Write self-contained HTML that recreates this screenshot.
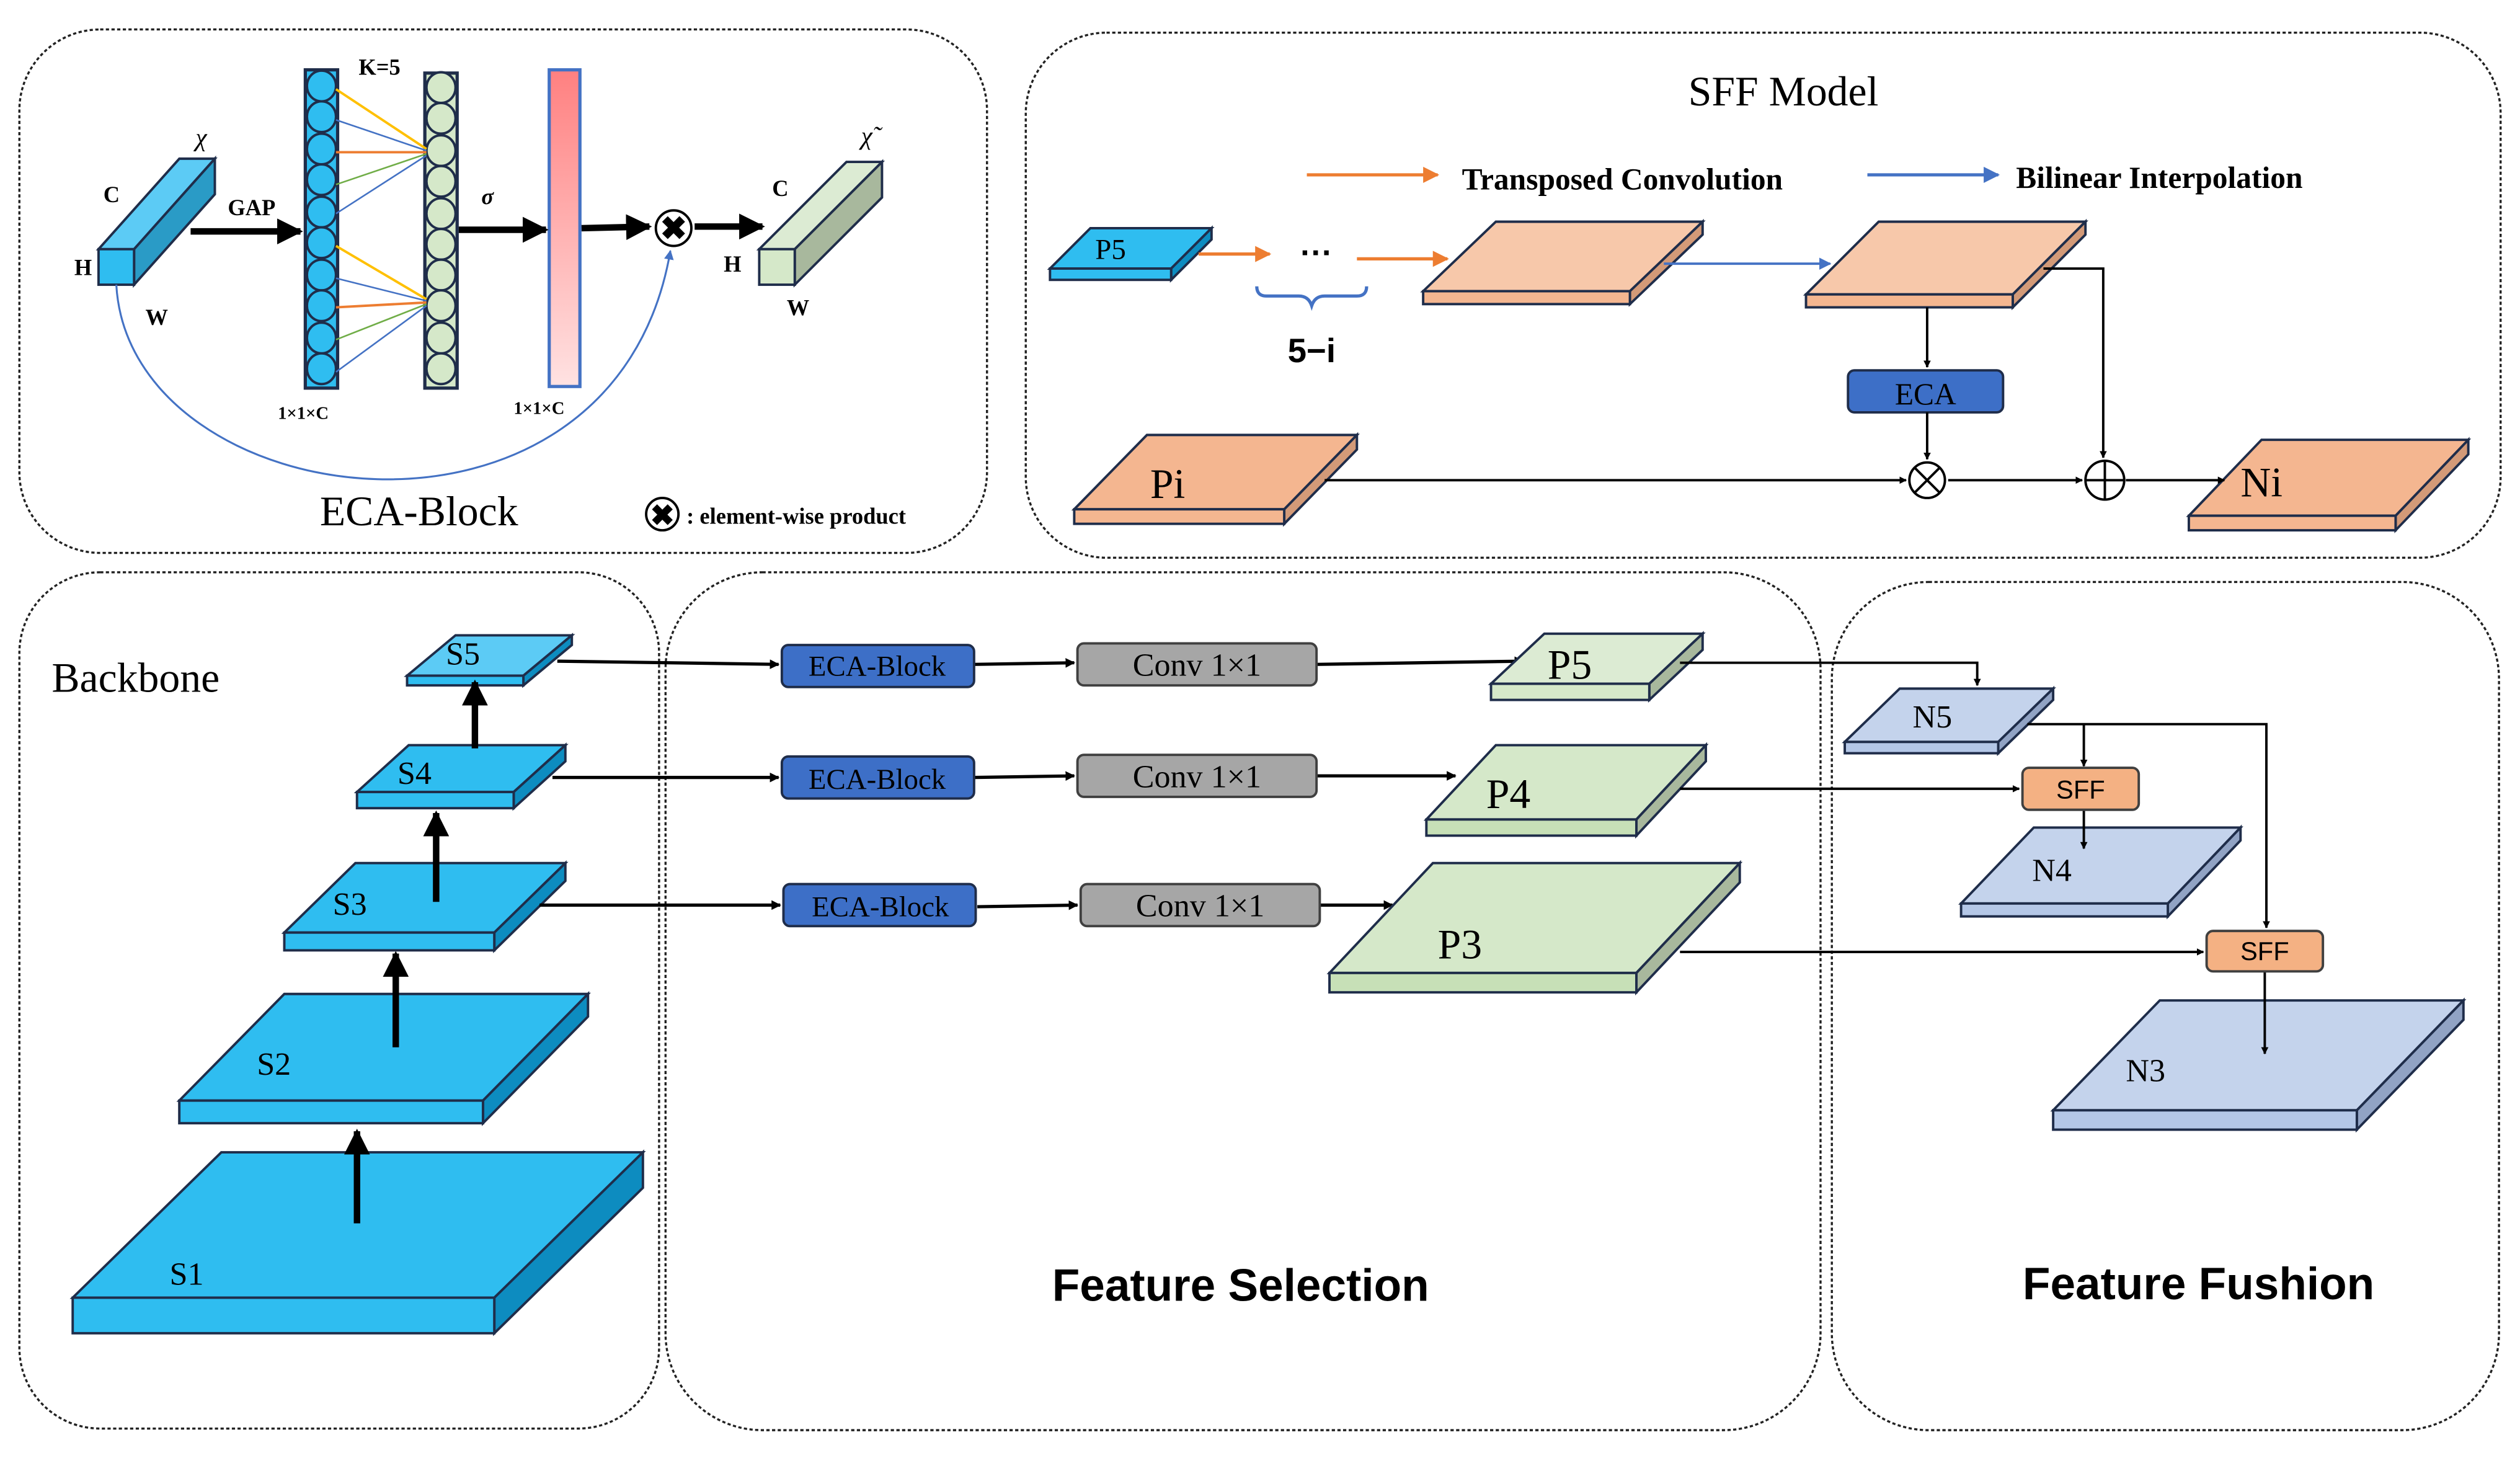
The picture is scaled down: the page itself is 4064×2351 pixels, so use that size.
<!DOCTYPE html>
<html><head><meta charset="utf-8"><style>html,body{margin:0;padding:0;background:#fff}svg{display:block}</style></head>
<body>
<svg xmlns="http://www.w3.org/2000/svg" width="4064" height="2351" viewBox="0 0 1560 902" font-family="Liberation Serif, serif">
<defs>
<marker id="a" viewBox="0 0 10 10" refX="9" refY="5" markerWidth="4" markerHeight="4" orient="auto"><path d="M0,0L10,5L0,10z" fill="#000"/></marker>
<marker id="ab" viewBox="0 0 10 10" refX="9" refY="5" markerWidth="3" markerHeight="3" orient="auto"><path d="M0,0L10,5L0,10z" fill="#000"/></marker>
<marker id="ao" viewBox="0 0 10 10" refX="9" refY="5" markerWidth="5" markerHeight="5" orient="auto"><path d="M0,0L10,5L0,10z" fill="#ed7d31"/></marker>
<marker id="abl" viewBox="0 0 10 10" refX="9" refY="5" markerWidth="5" markerHeight="5" orient="auto"><path d="M0,0L10,5L0,10z" fill="#4472c4"/></marker>
<linearGradient id="g" x1="0" y1="0" x2="0" y2="1"><stop offset="0" stop-color="#ff8080"/><stop offset="1" stop-color="#ffe2e2"/></linearGradient>
</defs>
<g fill="none" stroke="#222" stroke-width="1.3" stroke-dasharray="2,1.5">
<rect x="12" y="18" width="599" height="324" rx="50"/>
<rect x="635" y="20" width="913" height="325" rx="50"/>
<rect x="12" y="354" width="396" height="530" rx="50"/>
<rect x="412" y="354" width="715" height="531" rx="60"/>
<rect x="1134" y="360" width="413" height="525" rx="60"/>
</g>

<!-- ECA block panel -->
<g stroke="#1f2d4a" stroke-width="1.5">
<polygon points="61,154 83,154 133,98 111,98" fill="#5ccbf5"/>
<polygon points="83,154 133,98 133,120 83,176" fill="#2a9bc6"/>
<rect x="61" y="154" width="22" height="22" fill="#2fbdf0"/>
<polygon points="470,154 492,154 546,100 524,100" fill="#dcebd3"/>
<polygon points="492,154 546,100 546,122 492,176" fill="#a8b89d"/>
<rect x="470" y="154" width="22" height="22" fill="#d5e8c9"/>
</g>
<rect x="189" y="43" width="20" height="197" fill="#2fbdf0" stroke="#1f2d4a" stroke-width="2"/>
<rect x="263" y="45" width="20" height="195" fill="#d5e8c9" stroke="#1f2d4a" stroke-width="2"/>
<g stroke="#1f2d4a" stroke-width="1.5" fill="#2fbdf0">
<ellipse cx="199" cy="53" rx="9" ry="9.5"/><ellipse cx="199" cy="72" rx="9" ry="9.5"/><ellipse cx="199" cy="92" rx="9" ry="9.5"/><ellipse cx="199" cy="111" rx="9" ry="9.5"/><ellipse cx="199" cy="131" rx="9" ry="9.5"/><ellipse cx="199" cy="150" rx="9" ry="9.5"/><ellipse cx="199" cy="170" rx="9" ry="9.5"/><ellipse cx="199" cy="189" rx="9" ry="9.5"/><ellipse cx="199" cy="209" rx="9" ry="9.5"/><ellipse cx="199" cy="228" rx="9" ry="9.5"/>
</g>
<g stroke="#1f2d4a" stroke-width="1.5" fill="#d5e8c9">
<ellipse cx="273" cy="54" rx="9" ry="9.5"/><ellipse cx="273" cy="73" rx="9" ry="9.5"/><ellipse cx="273" cy="93" rx="9" ry="9.5"/><ellipse cx="273" cy="112" rx="9" ry="9.5"/><ellipse cx="273" cy="132" rx="9" ry="9.5"/><ellipse cx="273" cy="151" rx="9" ry="9.5"/><ellipse cx="273" cy="170" rx="9" ry="9.5"/><ellipse cx="273" cy="189" rx="9" ry="9.5"/><ellipse cx="273" cy="209" rx="9" ry="9.5"/><ellipse cx="273" cy="228" rx="9" ry="9.5"/>
</g>
<g stroke-width="1">
<line x1="208" y1="55" x2="264" y2="92" stroke="#ffc000" stroke-width="1.5"/>
<line x1="208" y1="74" x2="264" y2="93" stroke="#4472c4"/>
<line x1="208" y1="94" x2="264" y2="94" stroke="#ed7d31" stroke-width="1.5"/>
<line x1="208" y1="114" x2="264" y2="95" stroke="#70ad47"/>
<line x1="208" y1="132" x2="264" y2="96" stroke="#4472c4"/>
<line x1="208" y1="152" x2="264" y2="185" stroke="#ffc000" stroke-width="1.5"/>
<line x1="208" y1="172" x2="264" y2="186" stroke="#4472c4"/>
<line x1="208" y1="190" x2="264" y2="187" stroke="#ed7d31" stroke-width="1.5"/>
<line x1="208" y1="210" x2="264" y2="188" stroke="#70ad47"/>
<line x1="208" y1="230" x2="264" y2="189" stroke="#4472c4"/>
</g>
<rect x="340" y="43" width="19" height="196" fill="url(#g)" stroke="#4472c4" stroke-width="2"/>
<g stroke="#000" stroke-width="4" marker-end="url(#a)">
<line x1="118" y1="143" x2="186" y2="143"/>
<line x1="284" y1="142" x2="338" y2="142"/>
<line x1="360" y1="141" x2="402" y2="140"/>
<line x1="430" y1="140" x2="472" y2="140"/>
</g>
<circle cx="417" cy="141" r="11" fill="#fff" stroke="#000" stroke-width="1.5"/>
<text x="417" y="148" font-size="20" font-weight="bold" text-anchor="middle">✖</text>
<path d="M72,176 C80,320 380,360 415,155" fill="none" stroke="#4472c4" stroke-width="1.2" marker-end="url(#abl)"/>
<g font-weight="bold" font-size="14">
<text x="64" y="125">C</text><text x="46" y="170">H</text><text x="90" y="201">W</text>
<text x="141" y="133">GAP</text><text x="222" y="46">K=5</text>
<text x="478" y="121">C</text><text x="448" y="168">H</text><text x="487" y="195">W</text>
<text x="172" y="259" font-size="11">1×1×C</text><text x="318" y="256" font-size="11">1×1×C</text>
<text x="298" y="126" font-style="italic">σ</text>
<text x="425" y="324" font-size="14">: element-wise product</text>
</g>
<text x="121" y="90" font-size="16" font-style="italic">χ</text>
<text x="533" y="89" font-size="16" font-style="italic">χ̃</text>
<text x="198" y="325" font-size="26">ECA-Block</text>
<circle cx="410" cy="318" r="10" fill="#fff" stroke="#000" stroke-width="1.5"/>
<text x="410" y="325" font-size="18" font-weight="bold" text-anchor="middle">✖</text>

<!-- SFF model -->
<text x="1104" y="65" font-size="26" text-anchor="middle">SFF Model</text>
<line x1="809" y1="108" x2="890" y2="108" stroke="#ed7d31" stroke-width="2" marker-end="url(#ao)"/>
<text x="905" y="117" font-size="19" font-weight="bold">Transposed Convolution</text>
<line x1="1156" y1="108" x2="1237" y2="108" stroke="#4472c4" stroke-width="2" marker-end="url(#abl)"/>
<text x="1248" y="116" font-size="19" font-weight="bold">Bilinear Interpolation</text>
<g stroke="#1f2d4a" stroke-width="1.5">
<polygon points="650,166 725,166 750,141 675,141" fill="#2fbdf0"/><polygon points="725,166 750,141 750,148 725,173" fill="#0d8cc0"/><rect x="650" y="166" width="75" height="7" fill="#2fbdf0"/>
<polygon points="881,180 1009,180 1054,137 926,137" fill="#f7c8aa"/><polygon points="1009,180 1054,137 1054,145 1009,188" fill="#d39a78"/><rect x="881" y="180" width="128" height="8" fill="#f4b690"/>
<polygon points="1118,182 1246,182 1291,137 1163,137" fill="#f7c8aa"/><polygon points="1246,182 1291,137 1291,145 1246,190" fill="#d39a78"/><rect x="1118" y="182" width="128" height="8" fill="#f4b690"/>
<polygon points="665,315 795,315 840,269 710,269" fill="#f4b690"/><polygon points="795,315 840,269 840,278 795,324" fill="#d39a78"/><rect x="665" y="315" width="130" height="9" fill="#f4b690"/>
<polygon points="1355,319 1483,319 1528,272 1400,272" fill="#f4b690"/><polygon points="1483,319 1528,272 1528,281 1483,328" fill="#d39a78"/><rect x="1355" y="319" width="128" height="9" fill="#f4b690"/>
</g>
<text x="678" y="160" font-size="18">P5</text>
<text x="712" y="308" font-size="26">Pi</text>
<text x="1387" y="307" font-size="26">Ni</text>
<line x1="742" y1="157" x2="786" y2="157" stroke="#ed7d31" stroke-width="2" marker-end="url(#ao)"/>
<text x="815" y="163" font-size="20" font-weight="bold" text-anchor="middle" font-family="Liberation Sans, sans-serif">···</text>
<line x1="840" y1="160" x2="896" y2="160" stroke="#ed7d31" stroke-width="2" marker-end="url(#ao)"/>
<path d="M778,177 q0,6 6,6 h20 q6,0 8,6 q2,-6 8,-6 h20 q6,0 6,-6" fill="none" stroke="#4472c4" stroke-width="2"/>
<text x="812" y="224" font-size="21" font-weight="bold" text-anchor="middle" font-family="Liberation Sans, sans-serif">5−i</text>
<line x1="1030" y1="163" x2="1133" y2="163" stroke="#4472c4" stroke-width="1.5" marker-end="url(#abl)"/>
<rect x="1144" y="229" width="96" height="26" rx="4" fill="#3d6fc7" stroke="#1f2d4a" stroke-width="1.5"/>
<text x="1192" y="250" font-size="19" text-anchor="middle">ECA</text>
<g stroke="#000" stroke-width="1.5" fill="none">
<line x1="1193" y1="190" x2="1193" y2="227" marker-end="url(#ab)"/>
<line x1="1193" y1="255" x2="1193" y2="284" marker-end="url(#ab)"/>
<polyline points="1265,166 1302,166 1302,283" marker-end="url(#ab)"/>
<line x1="820" y1="297" x2="1180" y2="297" marker-end="url(#ab)"/>
<line x1="1206" y1="297" x2="1289" y2="297" marker-end="url(#ab)"/>
<line x1="1316" y1="297" x2="1377" y2="297" marker-end="url(#ab)"/>
<circle cx="1193" cy="297" r="11" fill="#fff"/><line x1="1185" y1="289" x2="1201" y2="305"/><line x1="1201" y1="289" x2="1185" y2="305"/>
<circle cx="1303" cy="297" r="12" fill="#fff"/><line x1="1291" y1="297" x2="1315" y2="297"/><line x1="1303" y1="285" x2="1303" y2="309"/>
</g>

<!-- Backbone -->
<text x="32" y="428" font-size="26">Backbone</text>
<g stroke="#1f2d4a" stroke-width="1.5">
<polygon points="45,803 306,803 398,713 137,713" fill="#2fbdf0"/><polygon points="306,803 398,713 398,735 306,825" fill="#0d8cc0"/><rect x="45" y="803" width="261" height="22" fill="#2fbdf0"/>
<polygon points="111,681 299,681 364,615 176,615" fill="#2fbdf0"/><polygon points="299,681 364,615 364,629 299,695" fill="#0d8cc0"/><rect x="111" y="681" width="188" height="14" fill="#2fbdf0"/>
<polygon points="176,577 306,577 350,534 220,534" fill="#2fbdf0"/><polygon points="306,577 350,534 350,545 306,588" fill="#0d8cc0"/><rect x="176" y="577" width="130" height="11" fill="#2fbdf0"/>
<polygon points="221,490 318,490 350,461 253,461" fill="#2fbdf0"/><polygon points="318,490 350,461 350,471 318,500" fill="#0d8cc0"/><rect x="221" y="490" width="97" height="10" fill="#2fbdf0"/>
<polygon points="252,418 324,418 354,393 282,393" fill="#5ccbf5"/><polygon points="324,418 354,393 354,399 324,424" fill="#0d8cc0"/><rect x="252" y="418" width="72" height="6" fill="#2fbdf0"/>
</g>
<g font-size="20"><text x="105" y="795">S1</text><text x="159" y="665">S2</text><text x="206" y="566">S3</text><text x="246" y="485">S4</text><text x="276" y="411">S5</text></g>
<g stroke="#000" stroke-width="4" marker-end="url(#a)">
<line x1="221" y1="757" x2="221" y2="700"/><line x1="245" y1="648" x2="245" y2="590"/><line x1="270" y1="558" x2="270" y2="503"/><line x1="294" y1="463" x2="294" y2="422"/>
</g>

<!-- Feature selection -->
<g stroke="#000" stroke-width="2" marker-end="url(#ab)">
<line x1="345" y1="409" x2="482" y2="411"/>
<line x1="342" y1="481" x2="482" y2="481"/>
<line x1="334" y1="560" x2="483" y2="560"/>
<line x1="603" y1="411" x2="665" y2="410"/><line x1="603" y1="481" x2="665" y2="480"/><line x1="605" y1="561" x2="667" y2="560"/>
<line x1="815" y1="411" x2="943" y2="409"/><line x1="815" y1="480" x2="901" y2="480"/><line x1="817" y1="560" x2="862" y2="560"/>
</g>
<g stroke="#1f2d4a" stroke-width="1.5" fill="#3d6fc7">
<rect x="484" y="399" width="119" height="26" rx="4"/><rect x="484" y="468" width="119" height="26" rx="4"/><rect x="485" y="547" width="119" height="26" rx="4"/>
</g>
<g stroke="#404040" stroke-width="1.5" fill="#a6a6a6">
<rect x="667" y="398" width="148" height="26" rx="4"/><rect x="667" y="467" width="148" height="26" rx="4"/><rect x="669" y="547" width="148" height="26" rx="4"/>
</g>
<g font-size="18" text-anchor="middle"><text x="543" y="418">ECA-Block</text><text x="543" y="488">ECA-Block</text><text x="545" y="567">ECA-Block</text>
<text x="741" y="418" font-size="20">Conv 1×1</text><text x="741" y="487" font-size="20">Conv 1×1</text><text x="743" y="567" font-size="20">Conv 1×1</text></g>
<g stroke="#1f2d4a" stroke-width="1.5">
<polygon points="923,423 1021,423 1054,392 956,392" fill="#dcebd3"/><polygon points="1021,423 1054,392 1054,402 1021,433" fill="#a8b89d"/><rect x="923" y="423" width="98" height="10" fill="#d5e8c9"/>
<polygon points="883,507 1013,507 1056,461 926,461" fill="#d5e8c9"/><polygon points="1013,507 1056,461 1056,471 1013,517" fill="#a8b89d"/><rect x="883" y="507" width="130" height="10" fill="#c7e0b7"/>
<polygon points="823,602 1013,602 1077,534 887,534" fill="#d5e8c9"/><polygon points="1013,602 1077,534 1077,546 1013,614" fill="#a8b89d"/><rect x="823" y="602" width="190" height="12" fill="#c7e0b7"/>
</g>
<g font-size="26"><text x="958" y="420">P5</text><text x="920" y="500">P4</text><text x="890" y="593">P3</text></g>
<text x="768" y="805" font-size="28" font-weight="bold" text-anchor="middle" font-family="Liberation Sans, sans-serif">Feature Selection</text>

<!-- Feature fusion -->
<g stroke="#1f2d4a" stroke-width="1.5">
<polygon points="1142,459 1237,459 1271,426 1176,426" fill="#c4d3ec"/><polygon points="1237,459 1271,426 1271,433 1237,466" fill="#91a3c4"/><rect x="1142" y="459" width="95" height="7" fill="#b4c7e7"/>
<polygon points="1214,559 1342,559 1387,512 1259,512" fill="#c4d3ec"/><polygon points="1342,559 1387,512 1387,520 1342,567" fill="#91a3c4"/><rect x="1214" y="559" width="128" height="8" fill="#b4c7e7"/>
<polygon points="1271,687 1459,687 1525,619 1337,619" fill="#c4d3ec"/><polygon points="1459,687 1525,619 1525,631 1459,699" fill="#91a3c4"/><rect x="1271" y="687" width="188" height="12" fill="#b4c7e7"/>
</g>
<g font-size="20"><text x="1184" y="450">N5</text><text x="1258" y="545">N4</text><text x="1316" y="669">N3</text></g>
<g stroke="#000" stroke-width="1.5" fill="none" marker-end="url(#ab)">
<polyline points="1040,410 1224,410 1224,424"/>
<polyline points="1255,448 1403,448 1403,574"/>
<line x1="1290" y1="448" x2="1290" y2="474"/>
<line x1="1040" y1="488" x2="1250" y2="488"/>
<line x1="1290" y1="501" x2="1290" y2="525"/>
<line x1="1040" y1="589" x2="1364" y2="589"/>
<line x1="1402" y1="601" x2="1402" y2="652"/>
</g>
<g stroke="#404040" stroke-width="1.5" fill="#f4b183">
<rect x="1252" y="475" width="72" height="26" rx="4"/><rect x="1366" y="576" width="72" height="25" rx="4"/>
</g>
<g font-size="16" text-anchor="middle" font-family="Liberation Sans, sans-serif"><text x="1288" y="494">SFF</text><text x="1402" y="594">SFF</text></g>
<text x="1361" y="804" font-size="28" font-weight="bold" text-anchor="middle" font-family="Liberation Sans, sans-serif">Feature Fushion</text>
</svg>
</body></html>
